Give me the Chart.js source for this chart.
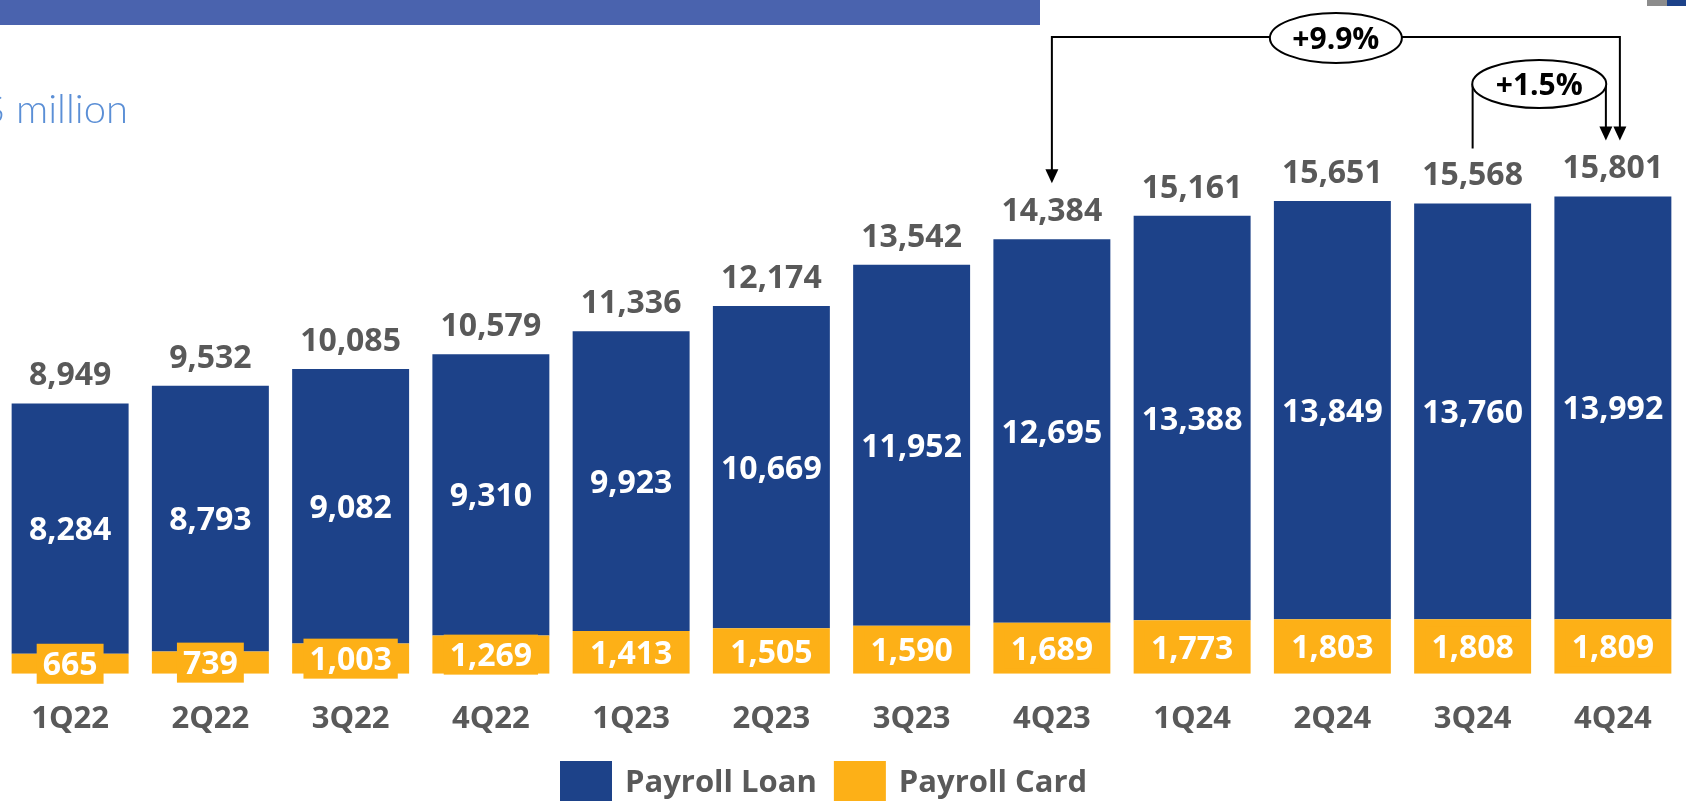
<!DOCTYPE html>
<html>
<head>
<meta charset="utf-8">
<script src="https://cdn.jsdelivr.net/npm/chart.js@4/dist/chart.umd.min.js"></script>
<style>
    html, body { margin: 0; padding: 0; background: #fff; }
    canvas { display: block; }
</style>
</head>
<body>
<canvas id="payroll-graph" width="1686" height="803"></canvas>
<script>
const quarters = ["1Q22", "2Q22", "3Q22", "4Q22", "1Q23", "2Q23", "3Q23", "4Q23", "1Q24", "2Q24", "3Q24", "4Q24"];
const payrollLoan = [8284, 8793, 9082, 9310, 9923, 10669, 11952, 12695, 13388, 13849, 13760, 13992];
const payrollCard = [665, 739, 1003, 1269, 1413, 1505, 1590, 1689, 1773, 1803, 1808, 1809];
const portfolioTotal = [8949, 9532, 10085, 10579, 11336, 12174, 13542, 14384, 15161, 15651, 15568, 15801];

// growth brackets: [from index, to index, text]
const growthYear = [7, 11, "+9.9%"];
const growthQuarter = [10, 11, "+1.5%"];

const LOAN_COLOR = "#1d4289";
const CARD_COLOR = "#fdb017";
const TEXT_GREY = "#595959";
const FONT = "'Open Sans', sans-serif";

const fmt = (v) => v.toLocaleString("en-US");

// header band and unit caption
const header = {
    id: "header",
    beforeDraw(chart) {
        const ctx = chart.ctx;
        ctx.save();
        ctx.fillStyle = "#4a63ae";
        ctx.fillRect(0, 0, 1040, 25);
        ctx.fillStyle = "#8c8c8c";
        ctx.fillRect(1647, 0, 20, 6);
        ctx.fillStyle = "#1d4289";
        ctx.fillRect(1667, 0, 19, 6);

        ctx.font = "300 40px Lato, sans-serif";
        ctx.fillStyle = "#5b8fd6";
        ctx.textAlign = "right";
        ctx.textBaseline = "alphabetic";
        ctx.fillText("R$ million", 128, 123);
        ctx.restore();
    },
};

// values inside the segments and totals above each bar
const barLabels = {
    id: "barLabels",
    afterDatasetsDraw(chart) {
        const ctx = chart.ctx;
        const cardMeta = chart.getDatasetMeta(0);
        const loanMeta = chart.getDatasetMeta(1);
        ctx.save();
        ctx.font = "bold 32px " + FONT;
        ctx.textAlign = "center";
        ctx.textBaseline = "alphabetic";
        quarters.forEach((q, i) => {
            const card = cardMeta.data[i];
            const loan = loanMeta.data[i];

            // card value on its own yellow tag
            const cardText = fmt(payrollCard[i]);
            const w = ctx.measureText(cardText).width + 12;
            const cy = (card.y + card.base) / 2;
            ctx.fillStyle = CARD_COLOR;
            ctx.fillRect(card.x - w / 2, cy - 20, w, 40);
            ctx.fillStyle = "#ffffff";
            ctx.fillText(cardText, card.x, cy + 11.5);

            ctx.fillText(fmt(payrollLoan[i]), loan.x, (loan.y + loan.base) / 2 + 11.5);

            ctx.fillStyle = TEXT_GREY;
            ctx.fillText(fmt(portfolioTotal[i]), loan.x, loan.y - 18);
        });
        ctx.restore();
    },
};

function arrowHead(ctx, x, y) {
    ctx.beginPath();
    ctx.moveTo(x, y);
    ctx.lineTo(x - 6.5, y - 14);
    ctx.lineTo(x + 6.5, y - 14);
    ctx.closePath();
    ctx.fill();
}

function bubble(ctx, cx, cy, rx, ry, text) {
    ctx.beginPath();
    ctx.ellipse(cx, cy, rx, ry, 0, 0, Math.PI * 2);
    ctx.fillStyle = "#ffffff";
    ctx.fill();
    ctx.stroke();
    ctx.fillStyle = "#000000";
    ctx.fillText(text, cx, cy + 11);
}

// growth arrows over the last bars
const growthArrows = {
    id: "growthArrows",
    afterDraw(chart) {
        const ctx = chart.ctx;
        const xs = chart.scales.x;
        const ys = chart.scales.y;
        const tipY = (i) => ys.getPixelForValue(payrollLoan[i] + payrollCard[i]) - 56;

        ctx.save();
        ctx.strokeStyle = "#000000";
        ctx.fillStyle = "#000000";
        ctx.lineWidth = 2;
        ctx.font = "bold 30px " + FONT;
        ctx.textAlign = "center";

        // year over year
        const a0 = xs.getPixelForValue(growthYear[0]);
        const a1 = xs.getPixelForValue(growthYear[1]) + 7;
        const lineY = 37;
        ctx.beginPath();
        ctx.moveTo(a0, tipY(growthYear[0]) - 12);
        ctx.lineTo(a0, lineY);
        ctx.lineTo(a1, lineY);
        ctx.lineTo(a1, tipY(growthYear[1]) - 12);
        ctx.stroke();
        arrowHead(ctx, a0, tipY(growthYear[0]));
        arrowHead(ctx, a1, tipY(growthYear[1]));
        bubble(ctx, (a0 + a1) / 2, 38, 66, 25, growthYear[2]);

        // quarter over quarter
        const b0 = xs.getPixelForValue(growthQuarter[0]);
        const b1 = xs.getPixelForValue(growthQuarter[1]) - 7;
        const bubbleY = 84;
        ctx.fillStyle = "#000000";
        ctx.beginPath();
        ctx.moveTo(b0, tipY(growthQuarter[0]) + 1);
        ctx.lineTo(b0, bubbleY);
        ctx.moveTo(b1, bubbleY);
        ctx.lineTo(b1, tipY(growthQuarter[1]) - 12);
        ctx.stroke();
        arrowHead(ctx, b1, tipY(growthQuarter[1]));
        bubble(ctx, (b0 + b1) / 2, bubbleY, 67, 24, growthQuarter[2]);
        ctx.restore();
    },
};

// legend drawn below the axis labels
const bottomLegend = {
    id: "bottomLegend",
    afterDraw(chart) {
        const ctx = chart.ctx;
        const items = [["Payroll Loan", LOAN_COLOR], ["Payroll Card", CARD_COLOR]];
        let x = 560;
        ctx.save();
        ctx.font = "bold 31px " + FONT;
        ctx.textAlign = "left";
        ctx.textBaseline = "alphabetic";
        items.forEach(([label, color]) => {
            ctx.fillStyle = color;
            ctx.fillRect(x, 761, 52, 40);
            x += 52 + 13;
            ctx.fillStyle = TEXT_GREY;
            ctx.fillText(label, x, 792);
            x += ctx.measureText(label).width + 17;
        });
        ctx.restore();
    },
};

function createPayrollGraph() {
    const ctx = document.getElementById("payroll-graph").getContext("2d");

    new Chart(ctx, {
        type: "bar",
        data: {
            labels: quarters,
            datasets: [
                {
                    label: "Payroll Card",
                    data: payrollCard,
                    backgroundColor: CARD_COLOR,
                    borderWidth: 0,
                },
                {
                    label: "Payroll Loan",
                    data: payrollLoan,
                    backgroundColor: LOAN_COLOR,
                    borderWidth: 0,
                },
            ],
        },
        options: {
            responsive: false,
            animation: false,
            layout: {
                padding: { top: 130, bottom: 38, left: 0, right: 3 },
            },
            datasets: {
                bar: { categoryPercentage: 1, barPercentage: 0.834 },
            },
            plugins: {
                legend: { display: false },
                tooltip: { enabled: false },
            },
            scales: {
                x: {
                    stacked: true,
                    grid: { display: false, drawTicks: false },
                    border: { display: false },
                    ticks: {
                        padding: 27,
                        color: TEXT_GREY,
                        font: { family: FONT, size: 31, weight: "bold" },
                    },
                },
                y: {
                    stacked: true,
                    display: false,
                    min: 0,
                    max: 18000,
                },
            },
        },
        plugins: [header, barLabels, growthArrows, bottomLegend],
    });
}

createPayrollGraph();
</script>
</body>
</html>
